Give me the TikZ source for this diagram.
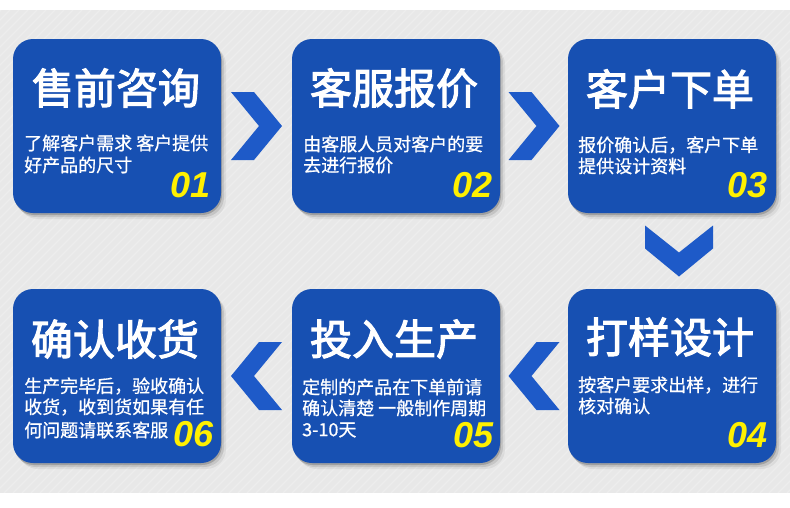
\documentclass[tikz,border=0pt]{standalone}
\usepackage{fontspec}
\usetikzlibrary{shadows,calc}
\newfontfamily\cjk{Noto Sans CJK SC}[FakeBold=0.8]
\newfontfamily\cjktitle{Noto Sans CJK SC}[FakeBold=2.6]
\newfontfamily\numfont{Liberation Sans}
\definecolor{boxblue}{HTML}{1750B2}
\definecolor{arrowblue}{HTML}{1E5AC8}
\definecolor{bggray}{HTML}{E8E8E8}
\definecolor{numyellow}{HTML}{FFF000}
\tikzset{
  box/.style={rectangle, rounded corners=20pt, fill=boxblue, minimum width=208pt, minimum height=174pt, inner sep=0pt,
    drop shadow={shadow xshift=1pt, shadow yshift=-2pt, opacity=0.18, fill=black},
    drop shadow={shadow xshift=3pt, shadow yshift=-4pt, opacity=0.10, fill=black},
    drop shadow={shadow xshift=5pt, shadow yshift=-6pt, opacity=0.06, fill=black}},
  title/.style={font=\cjktitle\fontsize{42}{46}\selectfont, text=white, inner sep=0pt},
  bodyline/.style={font=\cjk\fontsize{18}{22}\selectfont, text=white, inner sep=0pt, anchor=west},
  numlabel/.style={font=\numfont\bfseries\itshape\fontsize{36}{38}\selectfont, text=numyellow, inner sep=0pt, anchor=east},
  chevright/.pic={\fill[arrowblue] (-25.5,-34) -- (-2.5,-34) -- (25.5,0) -- (-2.5,34) -- (-25.5,34) -- (2.5,0) -- cycle;},
  chevleft/.pic={\fill[arrowblue] (25.5,-34) -- (2.5,-34) -- (-25.5,0) -- (2.5,34) -- (25.5,34) -- (-2.5,0) -- cycle;},
  chevdown/.pic={\fill[arrowblue] (-34,-25.5) -- (0,1.5) -- (34,-25.5) -- (34,-2.5) -- (0,25.5) -- (-34,-2.5) -- cycle;}
}
\begin{document}
\begin{tikzpicture}[x=1pt,y=-1pt]
\useasboundingbox (0,0) rectangle (790,507);
\fill[white] (0,0) rectangle (790,507);
\fill[bggray] (0,10) rectangle (790,493);
\begin{scope}
  \clip (0,10) rectangle (790,493);
  \foreach \i in {-500,-491,...,790}
    \draw[white, opacity=0.25, line width=1.2pt] (\i,493) -- (\i+483,10);
\end{scope}

% boxes
\node[box] (b1) at (117,126) {};
\node[box] (b2) at (396,126) {};
\node[box] (b3) at (672,126) {};
\node[box] (b4) at (672,376) {};
\node[box] (b5) at (396,376) {};
\node[box] (b6) at (117,376) {};

% chevrons between boxes
\coordinate (c12) at ($(b1.east)!0.5!(b2.west)$);
\coordinate (c23) at ($(b2.east)!0.5!(b3.west)$);
\coordinate (c34) at ($(b3.south)!0.5!(b4.north)+(7,0)$);
\coordinate (c45) at ($(b5.east)!0.5!(b4.west)$);
\coordinate (c56) at ($(b6.east)!0.5!(b5.west)$);
\pic at (c12) {chevright};
\pic at (c23) {chevright};
\pic at (c34) {chevdown};
\pic at (c45) {chevleft};
\pic at (c56) {chevleft};

% box 1
\node[title] (t1) at (116,88) {售前咨询};
\node[bodyline] (l11) at (24,143) {了解客户需求 客户提供};
\node[bodyline] (l12) at (24,165) {好产品的尺寸};
\node[numlabel] (n1) at (211,185) {01};
% box 2
\node[title] (t2) at (394,88) {客服报价};
\node[bodyline] (l21) at (303,144) {由客服人员对客户的要};
\node[bodyline] (l22) at (303,165) {去进行报价};
\node[numlabel] (n2) at (493,185) {02};
% box 3
\node[title] (t3) at (670,89) {客户下单};
\node[bodyline] (l31) at (578,145) {报价确认后，客户下单};
\node[bodyline] (l32) at (578,166) {提供设计资料};
\node[numlabel] (n3) at (768,185) {03};
% box 4
\node[title] (t4) at (670,337) {打样设计};
\node[bodyline] (l41) at (578,385) {按客户要求出样，进行};
\node[bodyline] (l42) at (578,406) {核对确认};
\node[numlabel] (n4) at (768,435) {04};
% box 5
\node[title] (t5) at (394,339) {投入生产};
\node[bodyline] (l51) at (302,387) {定制的产品在下单前请};
\node[bodyline] (l52) at (302,408) {确认清楚 一般制作周期};
\node[bodyline] (l53) at (302,430) {3-10天};
\node[numlabel] (n5) at (494,435) {05};
% box 6
\node[title] (t6) at (115,339) {确认收货};
\node[bodyline] (l61) at (24,386) {生产完毕后，验收确认};
\node[bodyline] (l62) at (24,407) {收货，收到货如果有任};
\node[bodyline] (l63) at (24,430) {何问题请联系客服};
\node[numlabel] (n6) at (214,434) {06};
\end{tikzpicture}
\end{document}
